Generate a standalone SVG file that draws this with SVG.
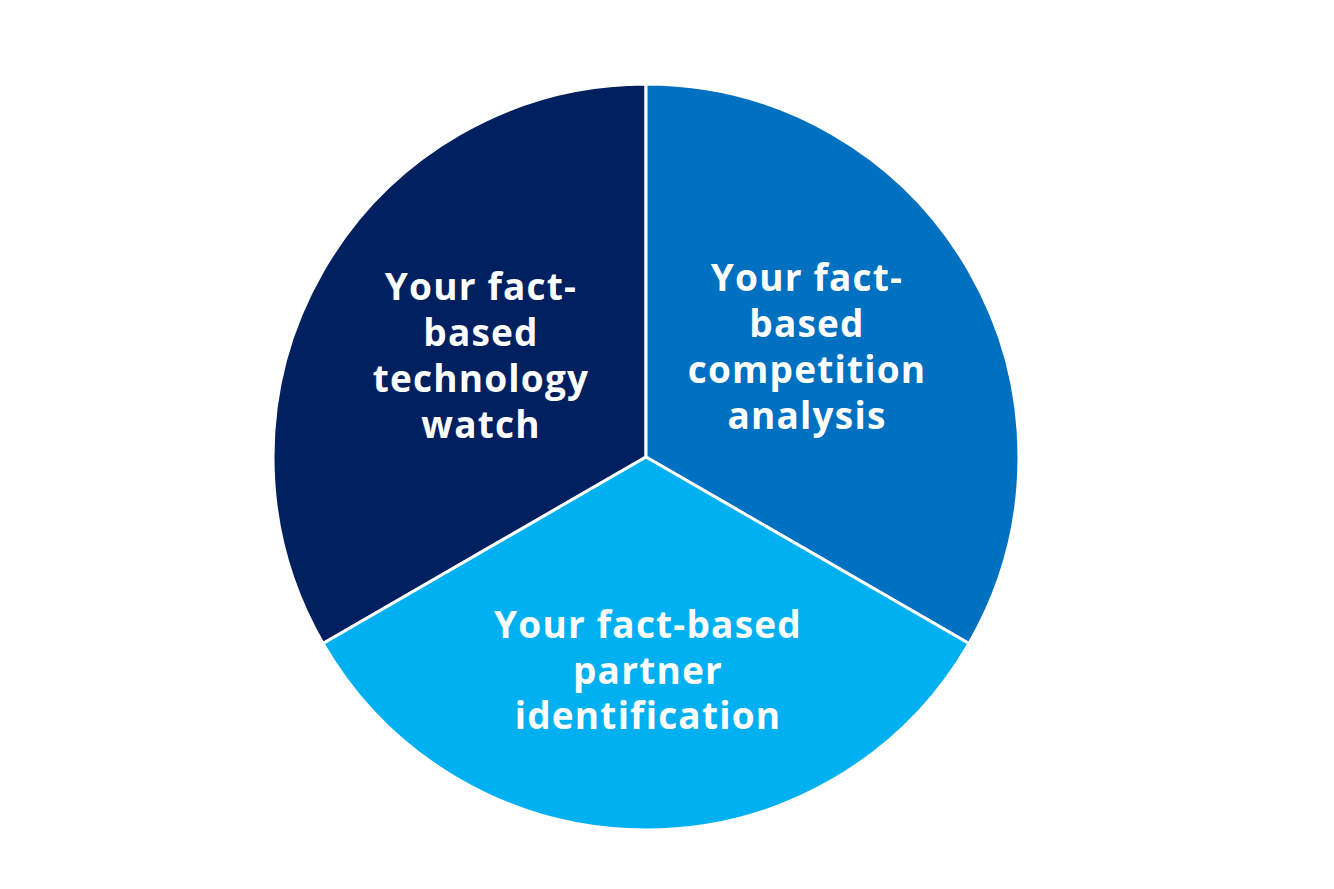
<svg xmlns="http://www.w3.org/2000/svg" width="1334" height="889" viewBox="0 0 1334 889">
<style>
.seg{stroke:#ffffff;stroke-width:3;stroke-linejoin:miter}
.lbl{font-family:"Open Sans","Liberation Sans",sans-serif;font-weight:bold;font-size:37px;letter-spacing:1.2px;fill:#ffffff;text-anchor:middle}
</style>
<rect width="1334" height="889" fill="#ffffff"/>
<g id="segment-technology">
<path class="seg" fill="#002060" d="M646,457 L646,84 A373,373 0 0 0 322.97,643.5 Z"/>
<text class="lbl"><tspan x="481" y="300">Your fact-</tspan><tspan x="481" y="346">based</tspan><tspan x="481" y="392">technology</tspan><tspan x="481" y="438">watch</tspan></text>
</g>
<g id="segment-competition">
<path class="seg" fill="#0070C0" d="M646,457 L646,84 A373,373 0 0 1 969.03,643.5 Z"/>
<text class="lbl"><tspan x="807" y="291">Your fact-</tspan><tspan x="807" y="337">based</tspan><tspan x="807" y="383">competition</tspan><tspan x="807" y="429">analysis</tspan></text>
</g>
<g id="segment-partner">
<path class="seg" fill="#00B0F0" d="M646,457 L969.03,643.5 A373,373 0 0 1 322.97,643.5 Z"/>
<text class="lbl"><tspan x="648" y="638">Your fact-based</tspan><tspan x="648" y="684">partner</tspan><tspan x="648" y="729">identification</tspan></text>
</g>
<g id="connectors"/>
</svg>
